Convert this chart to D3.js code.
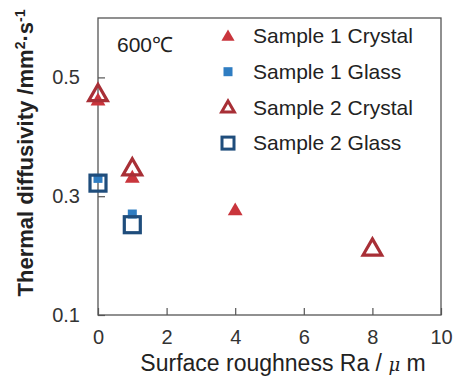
<!DOCTYPE html>
<html>
<head>
<meta charset="utf-8">
<script src="https://cdn.jsdelivr.net/npm/d3@7"></script>
<style>
  body { margin: 0; background: #fff; }
  text { font-family: Arial, "Liberation Sans", sans-serif; fill: #222; }
</style>
</head>
<body>
<div id="chart"></div>
<script>
// data (Ra in um, diffusivity in mm2/s)
let s1CrystalX = [0, 1, 4];
let s1CrystalY = [0.46, 0.33, 0.275];
let s1GlassX = [0, 1];
let s1GlassY = [0.33, 0.27];
let s2CrystalX = [0, 1, 8];
let s2CrystalY = [0.47, 0.345, 0.21];
let s2GlassX = [0, 1];
let s2GlassY = [0.322, 0.252];

let xTicks = [0, 2, 4, 6, 8, 10];
let yTicks = [0.1, 0.3, 0.5];
let legendNames = ["Sample 1 Crystal", "Sample 1 Glass", "Sample 2 Crystal", "Sample 2 Glass"];

let svgWidth = 457;
let svgHeight = 376;
let margin = {top: 18, right: 16, bottom: 61, left: 98};
let width = svgWidth - margin.left - margin.right;
let height = svgHeight - margin.top - margin.bottom;

let svg = d3.select("#chart")
  .append("svg")
  .attr("width", svgWidth)
  .attr("height", svgHeight);

let chartGroup = svg.append("g")
  .attr("transform", `translate(${margin.left}, ${margin.top})`);

let xScale = d3.scaleLinear().domain([0, 10]).range([0, width]);
let yScale = d3.scaleLinear().domain([0.1, 0.6]).range([height, 0]);

// frame
chartGroup.append("rect")
  .attr("width", width)
  .attr("height", height)
  .attr("fill", "none")
  .attr("stroke", "#555")
  .attr("stroke-width", 1.3);

// axes with inward ticks
let bottomAxis = d3.axisBottom(xScale).tickValues(xTicks).tickSizeInner(-7).tickSizeOuter(0).tickPadding(15);
let leftAxis = d3.axisLeft(yScale).tickValues(yTicks).tickSizeInner(-7).tickSizeOuter(0).tickPadding(18)
  .tickFormat(d3.format(".1f"));

let xAxisG = chartGroup.append("g")
  .attr("transform", `translate(0, ${height})`)
  .call(bottomAxis);
let yAxisG = chartGroup.append("g").call(leftAxis);

[xAxisG, yAxisG].forEach(g => {
  g.select(".domain").remove();
  g.selectAll(".tick line").attr("stroke", "#555").attr("stroke-width", 1.2);
  g.selectAll(".tick text").attr("font-size", 20).style("fill", "#333");
});
xAxisG.selectAll(".tick text").attr("dy", "0.71em");

// markers
let tri = d3.symbol().type(d3.symbolTriangle);

function pts(xs, ys) { return xs.map((x, i) => ({x: x, y: ys[i]})); }

// sample 1 crystal: filled red triangles
chartGroup.selectAll(".s1c")
  .data(pts(s1CrystalX, s1CrystalY))
  .enter().append("path")
  .attr("class", "s1c")
  .attr("d", tri.size(95))
  .attr("transform", d => `translate(${xScale(d.x)}, ${yScale(d.y)})`)
  .attr("fill", "#c9353c");

// sample 2 crystal: open dark-red triangles
chartGroup.selectAll(".s2c")
  .data(pts(s2CrystalX, s2CrystalY))
  .enter().append("path")
  .attr("class", "s2c")
  .attr("d", tri.size(150))
  .attr("transform", d => `translate(${xScale(d.x)}, ${yScale(d.y)})`)
  .attr("fill", "none")
  .attr("stroke", "#a82f36")
  .attr("stroke-width", 3.2);

// sample 1 glass: small filled blue squares
chartGroup.selectAll(".s1g")
  .data(pts(s1GlassX, s1GlassY))
  .enter().append("rect")
  .attr("class", "s1g")
  .attr("x", d => xScale(d.x) - 4.5)
  .attr("y", d => yScale(d.y) - 4.5)
  .attr("width", 9)
  .attr("height", 9)
  .attr("fill", "#2f7dc2");

// sample 2 glass: open dark-blue squares
chartGroup.selectAll(".s2g")
  .data(pts(s2GlassX, s2GlassY))
  .enter().append("rect")
  .attr("class", "s2g")
  .attr("x", d => xScale(d.x) - 8)
  .attr("y", d => yScale(d.y) - 8)
  .attr("width", 16)
  .attr("height", 16)
  .attr("fill", "none")
  .attr("stroke", "#1f4d7c")
  .attr("stroke-width", 3.2);

// legend
let legend = svg.append("g").attr("transform", "translate(228, 36)");
let rowGap = 35.7;
legendNames.forEach((name, i) => {
  let row = legend.append("g").attr("transform", `translate(0, ${i * rowGap})`);
  if (i === 0) row.append("path").attr("d", tri.size(75)).attr("fill", "#c9353c").attr("transform", "translate(0,1)");
  if (i === 1) row.append("rect").attr("x", -4.5).attr("y", -4.5).attr("width", 9).attr("height", 9).attr("fill", "#2f7dc2");
  if (i === 2) row.append("path").attr("d", tri.size(70)).attr("fill", "none").attr("stroke", "#a82f36").attr("stroke-width", 3).attr("transform", "translate(0,1)");
  if (i === 3) row.append("rect").attr("x", -6).attr("y", -6).attr("width", 12).attr("height", 12).attr("fill", "none").attr("stroke", "#1f4d7c").attr("stroke-width", 3);
  row.append("text")
    .attr("x", 25)
    .attr("dy", "0.35em")
    .attr("font-size", 21)
    .text(name);
});

// temperature note
chartGroup.append("text")
  .attr("x", 19)
  .attr("y", 34)
  .attr("font-size", 21)
  .text("600℃");

// axis titles
svg.append("text")
  .attr("transform", "rotate(-90)")
  .attr("x", -153)
  .attr("y", 33)
  .attr("text-anchor", "middle")
  .attr("font-size", 22)
  .attr("font-weight", "bold")
  .attr("textLength", 287)
  .attr("lengthAdjust", "spacingAndGlyphs")
  .html('Thermal diffusivity /mm<tspan dy="-8" font-size="14">2</tspan><tspan dy="8">·s</tspan><tspan dy="-8" font-size="14">-1</tspan>');

svg.append("text")
  .attr("x", 283)
  .attr("y", 371)
  .attr("text-anchor", "middle")
  .attr("font-size", 23)
  .html('Surface roughness Ra /  <tspan font-style="italic" font-family="DejaVu Serif" font-size="18">μ</tspan> m');
</script>
</body>
</html>
